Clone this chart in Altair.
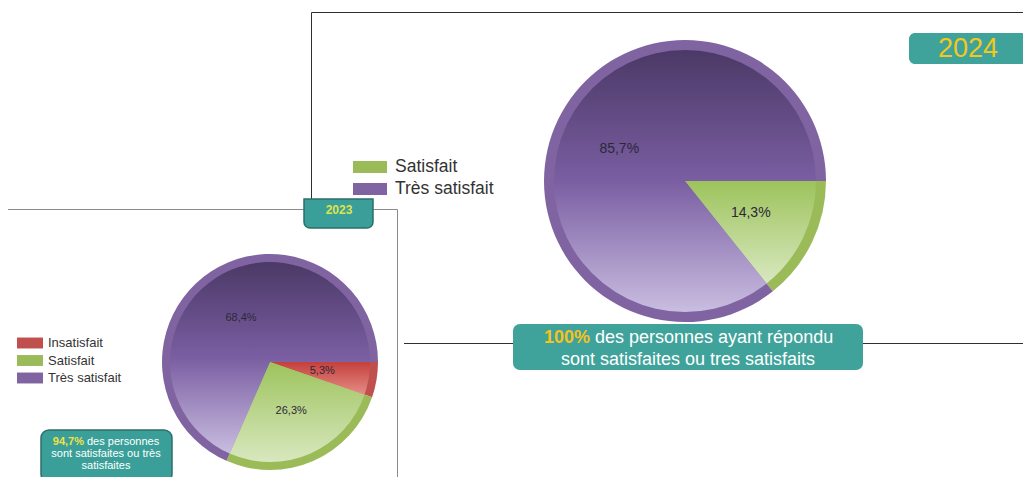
import math
import pandas as pd
import altair as alt

OFF = 8  # page margin; layout values below are page pixels
FONT = "Liberation Sans"

# ---- data ----
cats_2023 = ["Insatisfait", "Satisfait", "Très satisfait"]
vals_2023 = [5.3, 26.3, 68.4]
cats_2024 = ["Satisfait", "Très satisfait"]
vals_2024 = [14.3, 85.7]
all_cats = ["Insatisfait", "Satisfait", "Très satisfait"]
base_colors = ["#c0504d", "#9bbb59", "#8064a2"]

summary_2024 = ["100%", "des personnes ayant répondu", "sont satisfaites ou tres satisfaits"]
summary_2023 = ["94,7%", "des personnes", "sont satisfaites ou très", "satisfaites"]

gradients = {
    "Insatisfait": ["#c4403c", "#e58d87"],
    "Satisfait": ["#9dc35c", "#d8e8bf"],
    "Très satisfait": ["#4b3966", "#7a5ea2", "#c9bde0"],
}

TEAL = "#3fa39b"
TEAL_DARK = "#2e6f6b"


def px(v):
    return v - OFF


def grad(colors):
    n = len(colors)
    return {
        "gradient": "linear",
        "x1": 0, "y1": 0, "x2": 0, "y2": 1,
        "stops": [{"offset": i / (n - 1), "color": c} for i, c in enumerate(colors)],
    }


color_scale = alt.Scale(domain=all_cats, range=base_colors)
theta_scale = alt.Scale(domain=[0, 100], range=[math.pi / 2, math.pi / 2 + 2 * math.pi])
one = alt.Data(values=[{}])


def pie(cats, vals, cx, cy, r, rim, label_r, label_size):
    df = pd.DataFrame({"category": cats, "value": vals, "order": list(range(len(cats)))})
    base = alt.Chart(df).transform_stack(
        stack="value", groupby=[], as_=["v0", "v1"], sort=[alt.SortField("order", order="ascending")]
    )
    pos = dict(x=alt.value(px(cx)), y=alt.value(px(cy)))
    layers = [
        base.mark_arc().encode(
            theta=alt.Theta("v0:Q", scale=theta_scale, stack=False),
            theta2="v1:Q",
            color=alt.Color("category:N", scale=color_scale, legend=None),
            radius=alt.value(r),
            **pos,
        )
    ]
    for cat in cats:
        layers.append(
            base.transform_filter(alt.datum.category == cat)
            .mark_arc(fill=grad(gradients[cat]))
            .encode(
                theta=alt.Theta("v0:Q", scale=theta_scale, stack=False),
                theta2="v1:Q",
                radius=alt.value(r - rim),
                **pos,
            )
        )
    layers.append(
        base.transform_calculate(
            mid="(datum.v0 + datum.v1) / 2",
            label="replace(format(datum.value, '.1f'), '.', ',') + '%'",
        )
        .mark_text(font=FONT, fontSize=label_size, color="#2d2838", baseline="middle")
        .encode(
            theta=alt.Theta("mid:Q", scale=theta_scale, stack=False),
            radius=alt.value(label_r),
            text="label:N",
            **pos,
        )
    )
    return layers


def legend(cats, x_sym, x_txt, y_first, y_last, sym_size, half_h, font_size):
    d = pd.DataFrame({"category": cats})
    ys = alt.Y(
        "category:N",
        scale=alt.Scale(type="point", domain=cats, range=[px(y_first), px(y_last)], padding=0),
        axis=None,
    )
    sym = alt.Chart(d).mark_point(
        shape=f"M-1,-{half_h}H1V{half_h}H-1Z", filled=True, opacity=1, size=sym_size
    ).encode(
        x=alt.value(px(x_sym)), y=ys,
        color=alt.Color("category:N", scale=color_scale, legend=None),
    )
    txt = alt.Chart(d).mark_text(
        align="left", baseline="middle", font=FONT, fontSize=font_size, color="#333333"
    ).encode(x=alt.value(px(x_txt)), y=ys, text="category:N")
    return [sym, txt]


def box(x0, y0, x1, y1, **kw):
    return alt.Chart(one).mark_rect(**kw).encode(
        x=alt.value(px(x0)), x2=alt.value(px(x1)), y=alt.value(px(y0)), y2=alt.value(px(y1))
    )


def label(x, y, text, **kw):
    return alt.Chart(one).mark_text(text=text, font=FONT, baseline="middle", **kw).encode(
        x=alt.value(px(x)), y=alt.value(px(y))
    )


def rule(x0, y0, x1, y1, color, w=1):
    return alt.Chart(one).mark_rule(color=color, strokeWidth=w).encode(
        x=alt.value(px(x0)), x2=alt.value(px(x1)), y=alt.value(px(y0)), y2=alt.value(px(y1))
    )


layers = []
# white page background
layers.append(box(-10, -10, 1040, 500, fill="white", strokeWidth=0))
# ---- 2024 panel ----
layers.append(rule(311.5, 12.5, 1040, 12.5, "#2f2f2f"))
layers.append(rule(311.5, 12.5, 311.5, 343.5, "#2f2f2f"))
layers.append(rule(311.5, 343.5, 1040, 343.5, "#2f2f2f"))
layers += pie(cats_2024, vals_2024, 685, 181, 141, 10, 73, 14)
layers += legend(cats_2024, 370, 395, 167, 189, 1156, 0.36, 17.5)
layers.append(box(513, 324, 863, 370, fill=TEAL, cornerRadius=7))
layers.append(label(590, 338, summary_2024[0], align="right", fontSize=18, fontWeight="bold", color="#f6c21c"))
layers.append(label(595, 338, summary_2024[1], align="left", fontSize=18, color="white"))
layers.append(label(688, 360, summary_2024[2], align="center", fontSize=18, color="white"))
layers.append(box(909, 33, 1027, 64, fill=TEAL, cornerRadius=6))
layers.append(label(968, 49, "2024", align="center", fontSize=27, color="#f2c81e"))

# ---- 2023 panel ----
layers.append(box(-10, 209, 404, 500, fill="white", strokeWidth=0))
layers.append(rule(0, 209.5, 397.5, 209.5, "#8a8a8a"))
layers.append(rule(397.5, 209.5, 397.5, 490, "#8a8a8a"))
layers.append(box(304, 199, 373, 228, fill="#3a9f98", stroke=TEAL_DARK, strokeWidth=1.5,
                  cornerRadiusBottomLeft=6, cornerRadiusBottomRight=6))
layers.append(label(339, 210, "2023", align="center", fontSize=12, fontWeight="bold", color="#dfe34c"))
layers += pie(cats_2023, vals_2023, 270, 362, 108, 8, 53, 11)
layers += legend(cats_2023, 30, 48, 343, 378, 676, 0.42, 13)
layers.append(box(41, 430, 172, 482, fill="#3a9f98", stroke=TEAL_DARK, strokeWidth=1.5, cornerRadius=8))
layers.append(label(84, 442, summary_2023[0], align="right", fontSize=11, fontWeight="bold", color="#f1e146"))
layers.append(label(87, 442, summary_2023[1], align="left", fontSize=11, color="white"))
layers.append(label(106, 454, summary_2023[2], align="center", fontSize=11, color="white"))
layers.append(label(106, 466, summary_2023[3], align="center", fontSize=11, color="white"))

chart = (
    alt.layer(*layers)
    .resolve_scale(y="independent")
    .properties(width=1015, height=469, padding=0, autosize=alt.AutoSizeParams(type="none"))
    .configure_view(strokeWidth=0, stroke="transparent")
    .configure(background="white")
)

chart.save("out.html", embed_options={"renderer": "svg", "actions": False})
